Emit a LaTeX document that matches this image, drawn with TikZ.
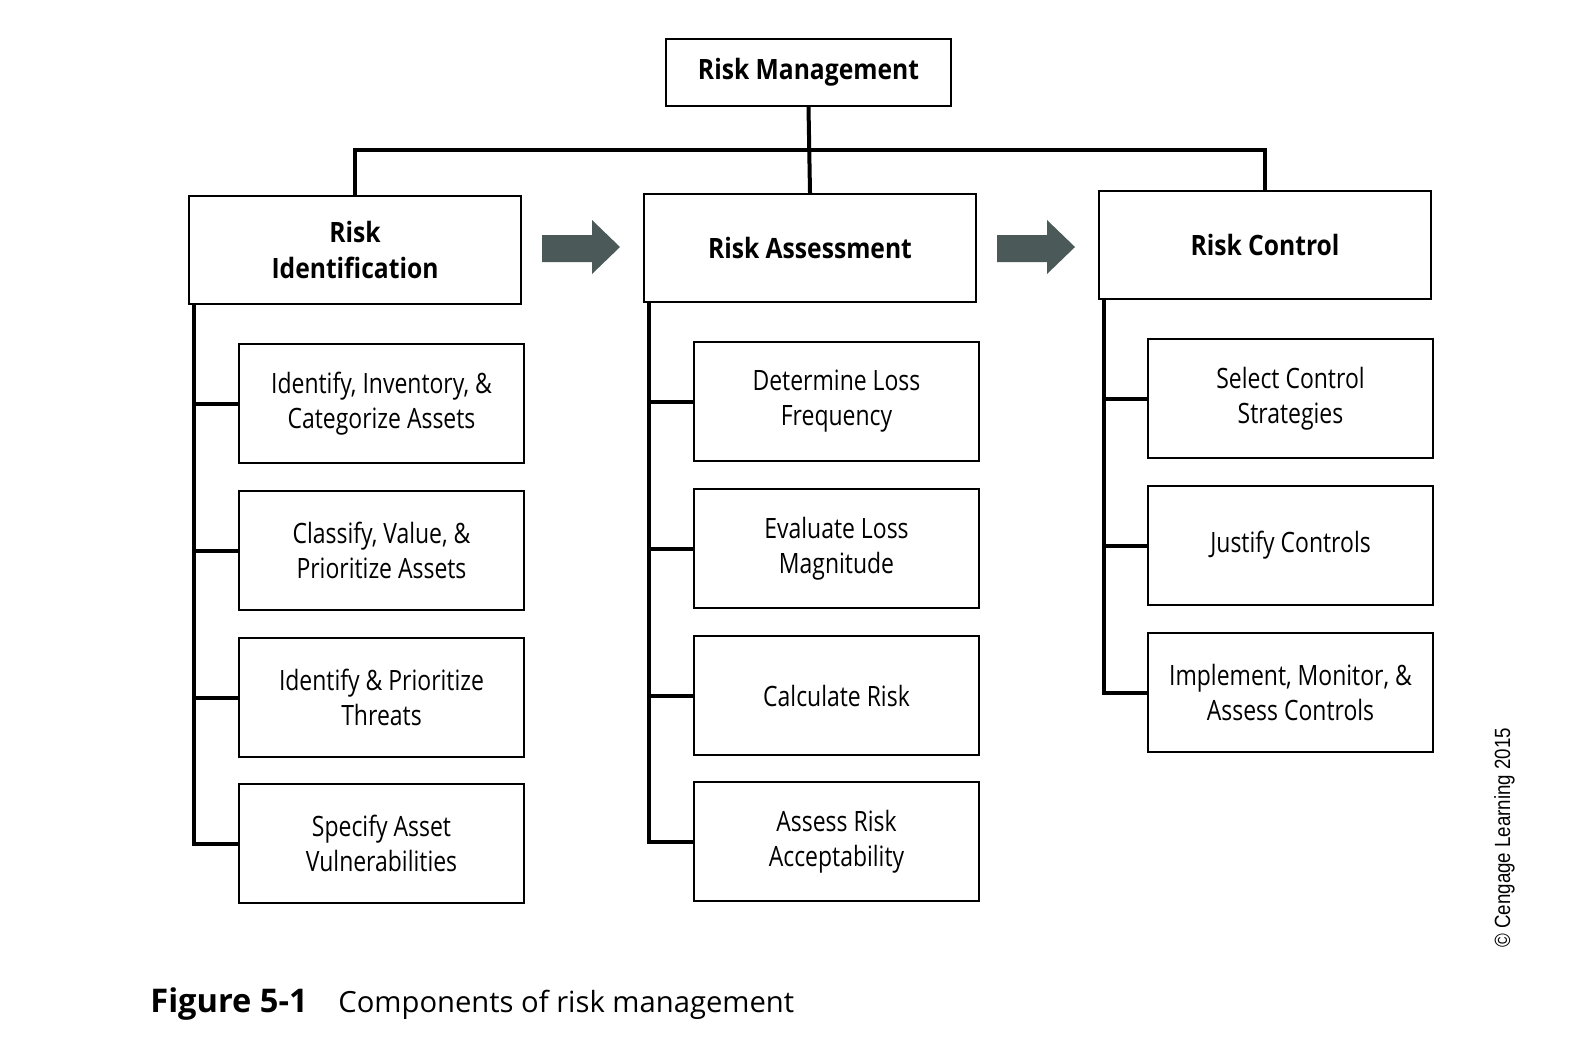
\documentclass[tikz,border=0pt]{standalone}
\usepackage{fontspec}
\setmainfont{Open Sans}
\newfontfamily\boxfont[FakeStretch=0.82]{Open Sans}
\newfontfamily\headfont[FakeStretch=0.88]{Open Sans}
\newfontfamily\copyfont[FakeStretch=0.85]{Liberation Sans}
\definecolor{arrowc}{HTML}{4B5959}
\begin{document}
\begin{tikzpicture}[x=0.5pt,y=-0.5pt]
\tikzset{
 box/.style={draw, line width=1pt, minimum width=142.5pt, minimum height=59.5pt, align=center, inner sep=0pt, anchor=north west, font=\boxfont\fontsize{14}{17.5}\selectfont},
 head/.style={box, minimum width=166pt, minimum height=54pt, font=\headfont\bfseries\fontsize{14}{18}\selectfont},
 conn/.style={line width=2pt},
 bigarrow/.style={fill=arrowc, draw=none}
}
\useasboundingbox (0,0) rectangle (1588,1044);
% top
\node[head, minimum width=142.5pt, minimum height=33.5pt] (rm) at (665,38) {Risk Management};
\node[head] (ri) at (188,195) {Risk\\Identification};
\node[head] (ra) at (643,193) {Risk Assessment};
\node[head] (rc) at (1098,190) {Risk Control};
\coordinate (bar) at (0,150);
\draw[conn] (ri.north) -- (ri.north |- bar) -- (rc.north |- bar) -- (rc.north);
\draw[conn] (rm.south) -- (ra.north);
% arrows
\fill[bigarrow] (542,235) -- (592,235) -- (592,220) -- (620,247) -- (592,274) -- (592,262) -- (542,262) -- cycle;
\fill[bigarrow] (997,235) -- (1047,235) -- (1047,220) -- (1075,247) -- (1047,274) -- (1047,262) -- (997,262) -- cycle;
% left column
\node[box] (l1) at (238,343) {Identify, Inventory, \&\\Categorize Assets};
\node[box] (l2) at (238,490) {Classify, Value, \&\\Prioritize Assets};
\node[box] (l3) at (238,637) {Identify \& Prioritize\\Threats};
\node[box] (l4) at (238,783) {Specify Asset\\Vulnerabilities};
\coordinate (sl) at (194,0);
\draw[conn] (ri.south -| sl) -- (sl |- l4.west) -- (l4.west);
\foreach \n in {l1,l2,l3} \draw[conn] (sl |- \n.west) -- (\n.west);
% middle column
\node[box] (m1) at (693,341) {Determine Loss\\Frequency};
\node[box] (m2) at (693,488) {Evaluate Loss\\Magnitude};
\node[box] (m3) at (693,635) {Calculate Risk};
\node[box] (m4) at (693,781) {Assess Risk\\Acceptability};
\coordinate (sm) at (649,0);
\draw[conn] (ra.south -| sm) -- (sm |- m4.west) -- (m4.west);
\foreach \n in {m1,m2,m3} \draw[conn] (sm |- \n.west) -- (\n.west);
% right column
\node[box] (r1) at (1147,338) {Select Control\\Strategies};
\node[box] (r2) at (1147,485) {Justify Controls};
\node[box] (r3) at (1147,632) {Implement, Monitor, \&\\Assess Controls};
\coordinate (sr) at (1104,0);
\draw[conn] (rc.south -| sr) -- (sr |- r3.west) -- (r3.west);
\foreach \n in {r1,r2} \draw[conn] (sr |- \n.west) -- (\n.west);
% caption
\node[anchor=base west, inner sep=0pt, font=\bfseries\fontsize{16.3}{19}\selectfont] (fig) at (150,1012) {Figure 5-1};
\node[anchor=base west, inner sep=0pt, font=\fontsize{14.6}{18}\selectfont] (cap) at (338,1012) {Components of risk management};
\node[rotate=90, anchor=base west, inner sep=0pt, font=\copyfont\fontsize{11}{13}\selectfont] (copy) at (1510,948) {© Cengage Learning 2015};
\end{tikzpicture}
\end{document}
